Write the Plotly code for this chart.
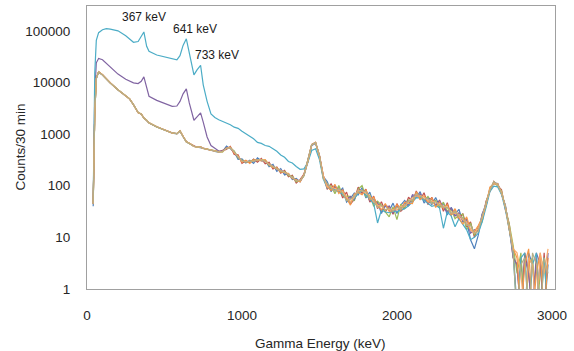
import plotly.graph_objects as go

# Energy grid (keV)
energy_kev = [40, 50, 60, 75, 100, 125, 150, 200, 250, 275, 300, 330, 350, 367, 385, 400, 450, 500,
              550, 580, 600, 620, 641, 660, 690, 710, 733, 750, 775, 800, 825, 850,
              875, 900, 925, 950, 975, 1000, 1025, 1050, 1075, 1100, 1125, 1150, 1175, 1200, 1225, 1250,
              1275, 1300, 1325, 1350, 1375, 1400, 1425, 1450, 1475, 1500,
              1525, 1550, 1575, 1600, 1625, 1650, 1675, 1700, 1725, 1750, 1775, 1800, 1825, 1850, 1875,
              1900, 1925, 1950, 1975, 2000, 2025, 2050, 2075, 2100, 2125, 2150, 2175, 2200, 2225, 2250,
              2275, 2300, 2325, 2350, 2375, 2400, 2425, 2450, 2475, 2500, 2525, 2550, 2575, 2600, 2625,
              2650, 2675, 2700, 2725, 2750,
              2775, 2800, 2825, 2850, 2875, 2900, 2925, 2950, 2975]

# Counts per 30 min
blue_counts = [40, 2400, 11800, 15800, 13900, 11400, 9700, 7150, 5550, 4750, 3680, 2620, 2430, 2030, 1830, 1640, 1370, 1190, 1040, 1010, 1140, 890, 700, 655, 575, 565, 550, 525, 505, 495, 460, 445,
               460, 583, 523, 450, 324, 330, 276, 310, 270, 347, 304, 310, 234, 259, 189, 215, 162, 173, 131, 138, 119, 160, 285, 600, 660, 370,
               150, 120, 77, 101, 76, 90, 48, 57, 72, 66, 92, 58, 75, 45, 48, 29, 43, 33, 46, 29,
               42, 52, 41, 64, 59, 77, 46, 59, 43, 59, 40, 46, 27, 38, 28, 35, 20, 21, 9, 6,
               11, 28, 40, 89, 109, 110, 68, 42, 14, 6,
               0.4, 4, 0.3, 5, 3, 0.4, 4, 0.3, 3]

red_counts = [46, 2550, 12100, 16100, 14100, 11600, 9850, 7250, 5620, 4820, 3720, 2580, 2460, 2060, 1840, 1660, 1390, 1210, 1060, 1020, 1160, 910, 715, 665, 585, 555, 565, 535, 515, 485, 475, 455,
              483, 504, 578, 405, 396, 270, 305, 280, 330, 284, 336, 266, 286, 212, 231, 176, 198, 149, 160, 113, 131, 168, 315, 632, 694, 391,
              158, 85, 108, 79, 92, 58, 75, 44, 54, 94, 71, 86, 48, 63, 36, 49, 31, 40, 28, 45,
              32, 38, 60, 48, 79, 54, 73, 43, 60, 40, 53, 32, 47, 27, 33, 22, 29, 16, 20, 10,
              16, 21, 50, 81, 121, 100, 83, 34, 18, 4,
              3, 0.3, 5, 2, 0.3, 4, 0.4, 5, 0.3]

green_counts = [44, 2480, 12000, 16000, 14000, 11500, 9800, 7200, 5600, 4800, 3700, 2600, 2450, 2050, 1850, 1650, 1380, 1200, 1050, 1020, 1150, 900, 710, 660, 580, 560, 560, 530, 510, 490, 470, 450,
                446, 546, 534, 473, 342, 315, 281, 295, 315, 306, 320, 310, 247, 235, 221, 185, 189, 157, 152, 119, 125, 155, 300, 620, 680, 380,
                143, 105, 99, 70, 101, 65, 63, 62, 51, 86, 101, 61, 66, 40, 50, 42, 31, 25, 39, 22,
                44, 36, 53, 50, 73, 61, 52, 62, 48, 52, 37, 48, 32, 35, 23, 27, 28, 14, 19, 11,
                15, 20, 47, 85, 115, 100, 79, 36, 18, 7,
                2, 5, 0.3, 3, 4, 0.3, 2, 4, 0.3]

purple_counts = [44, 6000, 24000, 29000, 27500, 23500, 20000, 14500, 11500, 10500, 9800, 9500, 10500, 12800, 7500, 5400, 4500, 3950, 3450, 3500, 4300, 6000, 7500, 4000, 1850, 2150, 2570, 1700, 880, 600, 520, 470,
                 470, 545, 540, 440, 355, 305, 285, 298, 295, 320, 312, 300, 255, 240, 205, 198, 176, 168, 142, 128, 122, 162, 298, 618, 678, 378,
                 143, 110, 81, 97, 80, 83, 54, 62, 54, 82, 80, 79, 51, 55, 46, 32, 40, 40, 30, 40,
                 36, 46, 41, 67, 63, 70, 52, 57, 55, 42, 51, 38, 31, 37, 26, 30, 21, 23, 12, 14,
                 13, 28, 45, 81, 115, 110, 71, 40, 15, 4,
                 3, 0.3, 4, 2, 0.3, 5, 3, 0.3, 5]

cyan_counts = [46, 15000, 65000, 92000, 105000, 110000, 108000, 100000, 80000, 68000, 60000, 62000, 78000, 95000, 50000, 40000, 34000, 31000, 28500, 27500, 33000, 52000, 70000, 38000, 14000, 17500, 21500, 9000, 4300, 2450, 2100, 1900,
               1780, 1620, 1520, 1360, 1290, 1130, 1010, 890, 810, 690, 660, 600, 580, 520, 465, 395, 355, 295, 275, 235, 208, 212, 280, 480, 520, 320,
               135, 90, 86, 84, 76, 68, 54, 47, 57, 70, 80, 65, 54, 45, 19, 34, 31, 30, 32, 31,
               34, 36, 41, 48, 59, 58, 52, 46, 40, 42, 37, 15, 31, 26, 16, 23, 18, 14, 9, 10,
               12, 20, 38, 77, 98, 95, 68, 34, 14, 5,
               0.3, 4, 5, 0.3, 3, 5, 0.3, 4, 0.3]

orange_counts = [45, 2520, 12050, 16050, 14050, 11550, 9780, 7180, 5580, 4790, 3690, 2610, 2440, 2040, 1845, 1655, 1385, 1205, 1045, 1015, 1155, 905, 705, 662, 578, 562, 558, 528, 512, 492, 468, 452,
                 460, 530, 561, 428, 378, 285, 313, 271, 315, 315, 304, 319, 260, 223, 221, 185, 180, 173, 138, 131, 119, 165, 294, 626, 687, 372,
                 150, 95, 81, 106, 71, 83, 57, 42, 69, 74, 67, 83, 54, 60, 42, 34, 45, 32, 33, 43,
                 34, 48, 46, 45, 76, 54, 64, 49, 58, 38, 48, 36, 43, 27, 36, 24, 18, 25, 14, 13,
                 17, 24, 43, 94, 109, 110, 71, 40, 14, 6,
                 4, 0.3, 3, 6, 0.3, 2, 5, 0.3, 4]

lightorange_counts = [45, 2510, 12020, 16020, 14020, 11520, 9800, 7190, 5590, 4795, 3695, 2598, 2448, 2048, 1852, 1652, 1382, 1202, 1048, 1022, 1152, 902, 708, 664, 579, 561, 559, 531, 511, 491, 469, 451,
                      458, 532, 546, 448, 362, 298, 292, 293, 302, 313, 322, 293, 258, 237, 208, 197, 178, 167, 143, 126, 124, 161, 300, 620, 680, 380,
                      158, 95, 95, 88, 80, 76, 60, 49, 60, 82, 80, 72, 63, 48, 42, 40, 34, 35, 35, 34,
                      40, 40, 48, 59, 63, 64, 61, 51, 50, 49, 42, 40, 38, 30, 29, 28, 22, 20, 14, 12,
                      15, 24, 45, 85, 115, 105, 75, 38, 16, 6,
                      5, 2, 0.3, 4, 3, 0.3, 5, 2, 6]

khaki_counts = [45, 2500, 11950, 15950, 13950, 11480, 9820, 7220, 5610, 4810, 3710, 2605, 2455, 2045, 1848, 1648, 1378, 1198, 1052, 1018, 1148, 898, 712, 658, 582, 558, 562, 532, 508, 488, 472, 448,
                465, 525, 548, 455, 358, 305, 288, 298, 296, 318, 316, 298, 262, 232, 212, 193, 182, 163, 147, 124, 126, 158, 302, 622, 682, 382,
                135, 110, 90, 79, 88, 72, 51, 55, 63, 78, 80, 76, 57, 53, 38, 42, 34, 37, 32, 38,
                36, 42, 50, 53, 69, 64, 55, 57, 45, 49, 44, 38, 38, 29, 32, 26, 24, 17, 17, 12,
                13, 26, 45, 81, 121, 105, 71, 40, 15, 5,
                0.3, 3, 4, 0.3, 5, 3, 0.3, 4, 2]

series = [
    ("Run 1", "#4F81BD", blue_counts),
    ("Run 2", "#C0504D", red_counts),
    ("Run 3", "#9BBB59", green_counts),
    ("Run 4", "#8064A2", purple_counts),
    ("Run 5", "#4BACC6", cyan_counts),
    ("Run 6", "#F79646", orange_counts),
    ("Run 7", "#F9AB6B", lightorange_counts),
    ("Run 8", "#B5AE86", khaki_counts),
]

peak_labels = ["367 keV", "641 keV", "733 keV"]
peak_label_x = [370, 700, 836]
peak_label_logy = [5.26, 5.04, 4.53]

y_tick_vals = [1, 10, 100, 1000, 10000, 100000]
y_tick_text = ["1", "10", "100", "1000", "10000", "100000"]
x_tick_vals = [0, 1000, 2000, 3000]

fig = go.Figure()
for name, color, vals in series:
    fig.add_trace(go.Scatter(x=energy_kev, y=vals, mode="lines", name=name,
                             line=dict(color=color, width=1.2), showlegend=False))

FONT = "Liberation Sans"
TXT = "#262626"

for t, x, y in zip(peak_labels, peak_label_x, peak_label_logy):
    fig.add_annotation(x=x, y=y, xref="x", yref="y", text=t, showarrow=False,
                       font=dict(family=FONT, size=12, color="#1a1a1a"))

fig.add_annotation(text="Counts/30 min", xref="paper", yref="paper", x=-0.143, y=0.50,
                   textangle=-90, showarrow=False, xanchor="center", yanchor="middle",
                   font=dict(family=FONT, size=13.5, color=TXT))
fig.add_annotation(text="Gamma Energy (keV)", xref="paper", yref="paper", x=0.498, y=-0.191,
                   showarrow=False, xanchor="center", yanchor="middle",
                   font=dict(family=FONT, size=13.5, color=TXT))

fig.update_layout(
    width=574, height=351,
    margin=dict(l=87, r=19, t=6, b=62),
    paper_bgcolor="white", plot_bgcolor="white",
    font=dict(family=FONT, size=13.5, color=TXT),
)
fig.update_xaxes(range=[0, 3020], tickvals=x_tick_vals, showgrid=False, zeroline=False,
                 showline=True, mirror=True, linecolor="#A0A0A0", linewidth=1,
                 ticks="", ticklabelstandoff=14, tickfont=dict(family=FONT, size=13.5, color=TXT))
fig.update_yaxes(type="log", range=[0, 5.48], tickvals=y_tick_vals, ticktext=y_tick_text,
                 showgrid=False, zeroline=False, showline=True, mirror=True,
                 linecolor="#A0A0A0", linewidth=1, ticks="", ticklabelstandoff=13,
                 tickfont=dict(family=FONT, size=13.5, color=TXT))

fig.write_html("out.html")
